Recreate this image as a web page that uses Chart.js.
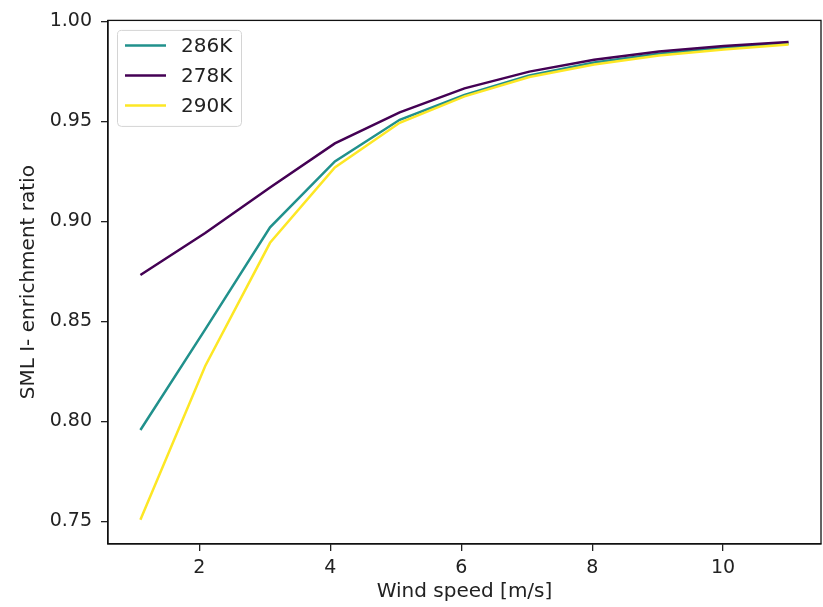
<!DOCTYPE html>
<html>
<head>
    <meta charset="UTF-8">
    <title>SML I- enrichment ratio</title>
    <script src="https://cdn.jsdelivr.net/npm/chart.js"></script>
    <style>
        body { margin: 0; background: #fff; }
    </style>
</head>
<body>
    <canvas id="ratioChart" width="823" height="607"></canvas>

    <script>
        // data
        const windSpeed = [1.1, 2.09, 3.08, 4.07, 5.06, 6.05, 7.04, 8.03, 9.02, 10.01, 11.0];
        const ratio286 = [0.7957, 0.8460, 0.8970, 0.9300, 0.9508, 0.9632, 0.9730, 0.9795, 0.9838, 0.9868, 0.9890];
        const ratio278 = [0.8732, 0.8942, 0.9170, 0.9390, 0.9545, 0.9665, 0.9749, 0.9808, 0.9850, 0.9877, 0.9897];
        const ratio290 = [0.7508, 0.8277, 0.8893, 0.9270, 0.9493, 0.9625, 0.9722, 0.9785, 0.9830, 0.9860, 0.9885];
        const seriesLabels = ['286K', '278K', '290K'];
        const xTicks = [2, 4, 6, 8, 10];
        const yTicks = [0.75, 0.80, 0.85, 0.90, 0.95, 1.00];

        const FONT = 'DejaVu Sans';
        const LINE_W = 2.5;
        const toPoints = ys => ys.map((y, i) => ({ x: windSpeed[i], y: y }));

        // matplotlib-like box around the plot area + legend inside, top left
        const frameAndLegend = {
            id: 'frameAndLegend',
            afterDatasetsDraw(chart) {
                const { ctx, chartArea: a } = chart;
                ctx.save();
                ctx.strokeStyle = '#111';
                ctx.lineWidth = 1.3;
                ctx.strokeRect(a.left, a.top, a.right - a.left, a.bottom - a.top);

                // legend frame
                const lx = a.left + 9.5, ly = a.top + 10, lw = 124, lh = 96;
                ctx.beginPath();
                ctx.roundRect(lx, ly, lw, lh, 4);
                ctx.fillStyle = 'rgba(255,255,255,0.8)';
                ctx.fill();
                ctx.strokeStyle = '#d4d4d4';
                ctx.lineWidth = 1;
                ctx.stroke();

                ctx.font = '20px "' + FONT + '"';
                ctx.textBaseline = 'middle';
                ctx.textAlign = 'left';
                chart.data.datasets.forEach((ds, i) => {
                    const y = ly + 15 + i * 30;
                    ctx.beginPath();
                    ctx.moveTo(lx + 7.5, y);
                    ctx.lineTo(lx + 48.5, y);
                    ctx.strokeStyle = ds.borderColor;
                    ctx.lineWidth = ds.borderWidth;
                    ctx.stroke();
                    ctx.fillStyle = '#222';
                    ctx.fillText(ds.label, lx + 63.5, y + 1);
                });
                ctx.restore();
            }
        };

        const ctx = document.getElementById('ratioChart').getContext('2d');
        const ratioChart = new Chart(ctx, {
            type: 'line',
            data: {
                datasets: [
                    { label: seriesLabels[0], data: toPoints(ratio286), borderColor: '#21918c', borderWidth: LINE_W, order: 2 },
                    { label: seriesLabels[1], data: toPoints(ratio278), borderColor: '#440154', borderWidth: LINE_W, order: 1 },
                    { label: seriesLabels[2], data: toPoints(ratio290), borderColor: '#fde725', borderWidth: LINE_W, order: 0 }
                ]
            },
            options: {
                responsive: false,
                animation: false,
                layout: { padding: { top: 12, right: 2, bottom: 0, left: 0 } },
                elements: {
                    line: { tension: 0, fill: false },
                    point: { radius: 0, hoverRadius: 0 }
                },
                plugins: {
                    legend: { display: false },
                    tooltip: { enabled: false }
                },
                scales: {
                    x: {
                        type: 'linear',
                        min: 0.605,
                        max: 11.495,
                        afterBuildTicks: s => { s.ticks = xTicks.map(v => ({ value: v })); },
                        afterFit: s => { s.height = 63; },
                        grid: { drawOnChartArea: false, drawTicks: true, tickLength: 7, tickColor: '#222', lineWidth: 1.3 },
                        border: { display: true, color: '#111', width: 1.3 },
                        ticks: {
                            color: '#222', padding: 6, autoSkip: false, maxRotation: 0,
                            font: { family: FONT, size: 19 },
                            callback: v => String(v)
                        },
                        title: {
                            display: true, text: 'Wind speed [m/s]', color: '#222',
                            font: { family: FONT, size: 20 }, padding: { top: 0, bottom: 3 }
                        }
                    },
                    y: {
                        min: 0.7387,
                        max: 1.0005,
                        afterBuildTicks: s => { s.ticks = yTicks.map(v => ({ value: v })); },
                        afterFit: s => { s.width = 108; },
                        grid: { drawOnChartArea: false, drawTicks: true, tickLength: 7, tickColor: '#222', lineWidth: 1.3 },
                        border: { display: true, color: '#111', width: 1.3 },
                        ticks: {
                            color: '#222', padding: 9, autoSkip: false,
                            font: { family: FONT, size: 19 },
                            callback: v => v.toFixed(2)
                        },
                        title: {
                            display: true, text: 'SML I- enrichment ratio', color: '#222',
                            font: { family: FONT, size: 20 }, padding: { top: 17, bottom: 0 }
                        }
                    }
                }
            },
            plugins: [frameAndLegend]
        });
    </script>
</body>
</html>
